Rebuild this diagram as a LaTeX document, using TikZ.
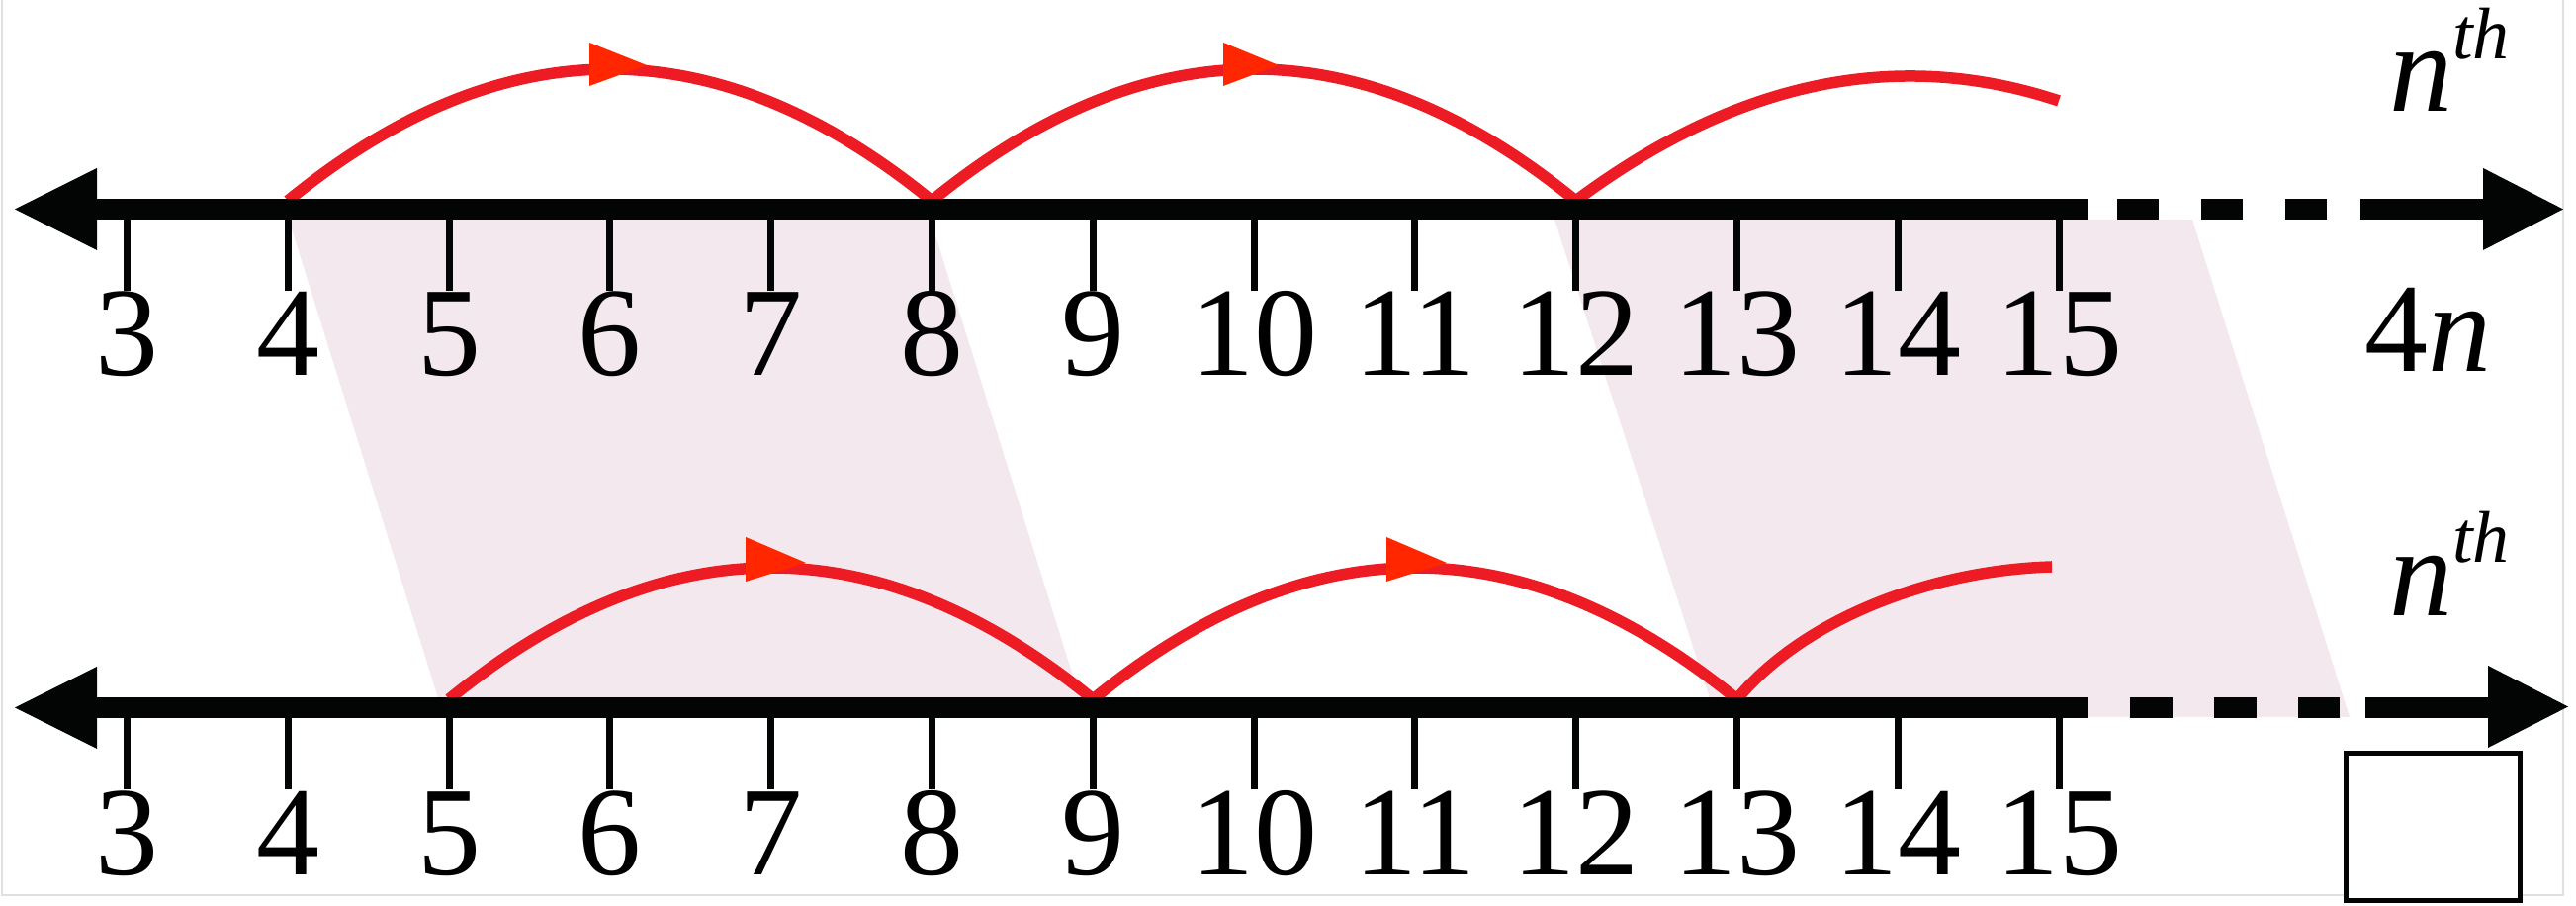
\documentclass[tikz,border=0pt]{standalone}
\usepackage{fontspec}
\setmainfont{Liberation Serif}
\definecolor{arcred}{RGB}{237,28,36}
\definecolor{tipred}{RGB}{255,38,0}
\definecolor{shadecol}{RGB}{244,232,239}
\definecolor{axblack}{RGB}{3,5,4}
\begin{document}
\begin{tikzpicture}[x=0.1pt,y=-0.1pt,
  axisline/.style={line width=2.1pt,draw=axblack},
  tickline/.style={line width=0.7pt,draw=axblack},
  jump/.style={line width=1.15pt,draw=arcred},
  numlab/.style={font=\fontsize{12.8}{14}\selectfont,inner sep=0pt,anchor=base},
  tipfill/.style={fill=tipred},
  headfill/.style={fill=axblack},
  shadefill/.style={fill=shadecol},
  frameline/.style={line width=0.25pt,draw=black!12},
  ansbox/.style={draw=axblack,fill=white,line width=0.5pt,inner sep=0pt,minimum width=17.6pt,minimum height=14.9pt}]
\useasboundingbox (0,0) rectangle (2605,916);
% faint frame
\draw[frameline] (2,0) -- (2,905) -- (2592,905) -- (2592,0);
% shaded bands
\fill[shadefill] (292,222) -- (941,222) -- (1098,725) -- (449,725) -- cycle;
\fill[shadefill] (1572,222) -- (2217,222) -- (2376,725) -- (1735,725) -- cycle;
% top jumps
\draw[jump] (291.1,203) .. controls (508.2,25.7) and (725.2,25.7) .. (942.3,203);
\draw[jump] (942.3,203) .. controls (1159.4,25.7) and (1376.4,25.7) .. (1593.5,203);
\draw[jump] (1593.5,203) .. controls (1756.3,81.6) and (1919.2,47.9) .. (2082,102);
% bottom jumps
\draw[jump] (454.1,707) .. controls (671.2,529.7) and (888.2,529.7) .. (1105.3,707);
\draw[jump] (1105.3,707) .. controls (1322.4,529.7) and (1539.4,529.7) .. (1756.5,707);
\draw[jump] (1756.5,707) .. controls (1820,630) and (1945,577) .. (2075,573);
% top axis
\draw[axisline] (98,211.5) -- (2112,211.5);
\draw[axisline] (2141,211.5) -- (2183,211.5);
\draw[axisline] (2226,211.5) -- (2268,211.5);
\draw[axisline] (2311,211.5) -- (2353,211.5);
\draw[axisline] (2387,211.5) -- (2513,211.5);
\fill[headfill] (15,211.5) -- (98,170) -- (98,253) -- cycle;
\fill[headfill] (2592,211.5) -- (2511,170) -- (2511,253) -- cycle;
% bottom axis
\draw[axisline] (98,715.5) -- (2112,715.5);
\draw[axisline] (2154,715.5) -- (2197,715.5);
\draw[axisline] (2239,715.5) -- (2282,715.5);
\draw[axisline] (2324,715.5) -- (2366,715.5);
\draw[axisline] (2392,715.5) -- (2518,715.5);
\fill[headfill] (15,715.5) -- (98,674) -- (98,757) -- cycle;
\fill[headfill] (2597,714.5) -- (2516,673) -- (2516,756) -- cycle;
% ticks and labels
\foreach \k in {3,...,15}{
  \pgfmathsetmacro{\xx}{128.5+(\k-3)*162.8}
  \draw[tickline] (\xx,222) -- (\xx,294);
  \draw[tickline] (\xx,726) -- (\xx,798);
  \node[numlab] (top\k) at (\xx,380) {\k};
  \node[numlab] (bot\k) at (\xx,885) {\k};
}
% direction marks
\fill[tipfill] (596,43) -- (596,87) -- (654,66) -- cycle;
\fill[tipfill] (1237,43) -- (1237,87) -- (1293,66) -- cycle;
\fill[tipfill] (754,543) -- (754,588) -- (815,569) -- cycle;
\fill[tipfill] (1402,543) -- (1402,588) -- (1463,569) -- cycle;
% right-hand labels
\node[numlab,anchor=base west] (nthtop) at (2414,113) {\textit{n}\raisebox{5.3pt}{\fontsize{7.4}{8}\selectfont\textit{th}}};
\node[numlab,anchor=base west] (nthbot) at (2414,623) {\textit{n}\raisebox{5.4pt}{\fontsize{7.4}{8}\selectfont\textit{th}}};
\node[numlab] (fourn) at (2455,376) {4\textit{n}};
\node[ansbox] (blank) at (2460,836.5) {};
\end{tikzpicture}
\end{document}
